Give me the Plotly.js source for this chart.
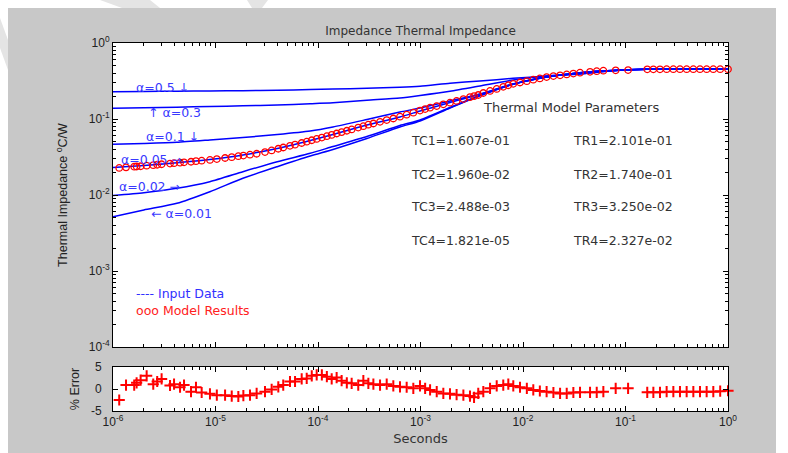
<!DOCTYPE html>
<html>
<head>
<meta charset="utf-8">
<script src="https://cdn.plot.ly/plotly-3.0.1.min.js"></script>
<style>html,body{margin:0;padding:0;background:#ffffff;}</style>
</head>
<body>
<div id="chart" style="width:788px;height:453px;"></div>
<script>
// Time grid of the measured curves (s)
const inputTime = [1e-6, 2e-6, 4.2e-6, 8.8e-6, 1.85e-5, 4e-5, 8.4e-5, 1.4e-4, 3e-4, 6.3e-4,
  9.9e-4, 1.94e-3, 3.8e-3, 8e-3, 1.71e-2, 3.6e-2, 7.5e-2, 1.62e-1, 1.0];

// Measured thermal impedance (°C/W) for each duty cycle alpha
const zAlpha050 = [0.2287, 0.2301, 0.2322, 0.2336, 0.2357, 0.2386, 0.2437, 0.2474, 0.2543, 0.2610,
  0.2693, 0.2949, 0.3162, 0.3431, 0.3680, 0.3909, 0.4319, 0.4506, 0.4548];
const zAlpha030 = [0.1383, 0.1404, 0.1430, 0.1461, 0.1492, 0.1528, 0.1585, 0.1633, 0.1762, 0.1889,
  0.2038, 0.2315, 0.2718, 0.3259, 0.3680, 0.3933, 0.4319, 0.4506, 0.4548];
const zAlpha010 = [0.0465, 0.0476, 0.0493, 0.0529, 0.0571, 0.0625, 0.0695, 0.0785, 0.0985, 0.1236,
  0.1396, 0.1725, 0.2133, 0.2887, 0.3569, 0.4066, 0.4346, 0.4506, 0.4548];
const zAlpha005 = [0.0230, 0.0244, 0.0265, 0.0293, 0.0336, 0.0409, 0.0521, 0.0625, 0.0834, 0.1062,
  0.1274, 0.1648, 0.2113, 0.2887, 0.3569, 0.4066, 0.4346, 0.4506, 0.4548];
const zAlpha002 = [0.00985, 0.01072, 0.01225, 0.01496, 0.02025, 0.02742, 0.03538, 0.04346, 0.05884, 0.08211,
  0.09701, 0.1417, 0.2038, 0.2861, 0.3558, 0.4066, 0.4346, 0.4506, 0.4548];
const zAlpha001 = [0.00518, 0.00635, 0.00777, 0.01105, 0.01658, 0.02357, 0.03260, 0.03970, 0.05537, 0.0785,
  0.0941, 0.1396, 0.2020, 0.2861, 0.3558, 0.4066, 0.4346, 0.4506, 0.4548];

// Times at which the fitted model was evaluated (s)
const modelTime = [1.15e-6, 1.34e-6, 1.61e-6, 1.70e-6, 1.86e-6, 2.13e-6, 2.47e-6, 2.70e-6, 2.98e-6, 3.60e-6,
  3.94e-6, 4.51e-6, 4.93e-6, 5.77e-6, 6.45e-6, 7.33e-6, 8.83e-6, 1.03e-5, 1.24e-5, 1.44e-5,
  1.67e-5, 1.87e-5, 2.17e-5, 2.52e-5, 3.04e-5, 3.53e-5, 4.10e-5, 4.58e-5, 5.33e-5, 5.97e-5,
  6.93e-5, 7.76e-5, 8.69e-5, 9.71e-5, 1.09e-4, 1.22e-4, 1.36e-4, 1.52e-4, 1.70e-4, 1.91e-4,
  2.13e-4, 2.47e-4, 2.77e-4, 3.10e-4, 3.47e-4, 4.03e-4, 4.68e-4, 5.43e-4, 6.31e-4, 7.33e-4,
  8.51e-4, 9.89e-4, 1.11e-3, 1.24e-3, 1.44e-3, 1.67e-3, 1.94e-3, 2.25e-3, 2.62e-3, 3.04e-3,
  3.33e-3, 3.66e-3, 4.10e-3, 4.77e-3, 5.54e-3, 6.42e-3, 7.19e-3, 8.04e-3, 9.35e-3, 1.09e-2,
  1.26e-2, 1.46e-2, 1.70e-2, 1.98e-2, 2.30e-2, 2.67e-2, 3.10e-2, 3.60e-2, 4.51e-2, 5.24e-2,
  6.08e-2, 8.02e-2, 1.06e-1, 1.63e-1, 1.87e-1, 2.17e-1, 2.52e-1, 2.93e-1, 3.40e-1, 3.95e-1,
  4.59e-1, 5.33e-1, 6.19e-1, 7.19e-1, 8.39e-1, 1.0];

// Model thermal impedance (°C/W)
const modelZ = [0.0227, 0.0231, 0.0236, 0.0237, 0.0239, 0.0243, 0.0247, 0.0250, 0.0254, 0.0259,
  0.0262, 0.0266, 0.0269, 0.0274, 0.0279, 0.0283, 0.0289, 0.0297, 0.0307, 0.0315,
  0.0324, 0.0330, 0.0339, 0.0349, 0.0367, 0.0386, 0.0406, 0.0422, 0.0444, 0.0460,
  0.0483, 0.0503, 0.0525, 0.0547, 0.0569, 0.0594, 0.0618, 0.0644, 0.0672, 0.0700,
  0.0730, 0.0771, 0.0804, 0.0841, 0.0873, 0.0918, 0.0968, 0.1016, 0.1072, 0.114,
  0.121, 0.129, 0.135, 0.141, 0.148, 0.156, 0.164, 0.173, 0.183, 0.194,
  0.200, 0.207, 0.220, 0.234, 0.249, 0.265, 0.278, 0.290, 0.302, 0.315,
  0.329, 0.342, 0.356, 0.367, 0.376, 0.386, 0.396, 0.407, 0.418, 0.426,
  0.432, 0.437, 0.440, 0.451, 0.451, 0.451, 0.452, 0.452, 0.452, 0.452,
  0.452, 0.452, 0.452, 0.452, 0.452, 0.452];

// Model error relative to the data (%)
const modelError = [-2.5, 0.9, 0.9, 1.4, 2.0, 3.0, 1.1, 1.7, 2.3, 0.8,
  1.1, 0.4, 0.9, -0.6, 0.4, -0.8, -1.1, -1.4, -1.4, -1.6,
  -1.7, -1.5, -1.4, -1.0, -0.6, -0.1, 0.5, 0.9, 1.7, 1.7,
  2.3, 2.4, 3.0, 3.2, 3.2, 2.8, 2.3, 2.6, 1.9, 1.4,
  1.3, 0.9, 1.9, 1.3, 1.1, 0.9, 1.1, 0.7, 0.5, 0.4,
  0.15, 0.7, 0.15, -0.2, -0.6, -1.0, -1.1, -1.3, -1.4, -1.6,
  -1.9, -1.0, -0.6, 0.15, 0.7, 0.9, 1.1, 0.7, 0.4, 0.15,
  -0.2, -0.45, -0.6, -0.8, -1.0, -1.0, -0.8, -0.75, -0.75, -0.75,
  -0.6, 0.15, 0.15, -0.75, -0.75, -0.75, -0.6, -0.6, -0.6, -0.6,
  -0.6, -0.6, -0.6, -0.6, -0.5, -0.4];

// Axis ticks
const decadeX = [1e-6, 1e-5, 1e-4, 1e-3, 1e-2, 1e-1, 1];
const xTickText = ['10<sup>-6</sup>', '10<sup>-5</sup>', '10<sup>-4</sup>', '10<sup>-3</sup>',
  '10<sup>-2</sup>', '10<sup>-1</sup>', '10<sup>0</sup>'];
const decadeY = [1e-4, 1e-3, 1e-2, 1e-1, 1];
const yTickText = ['10<sup>-4</sup>', '10<sup>-3</sup>', '10<sup>-2</sup>', '10<sup>-1</sup>', '10<sup>0</sup>'];
const errTicks = [-5, 0, 5];
const errTickText = ['-5', '0', '5'];

// Curve labels and fitted parameters
const alphaLabels = ['α=0.5 ↓', '↑ α=0.3', 'α=0.1 ↓', 'α=0.05 →', 'α=0.02 →', '← α=0.01'];
const paramTC = ['TC1=1.607e-01', 'TC2=1.960e-02', 'TC3=2.488e-03', 'TC4=1.821e-05'];
const paramTR = ['TR1=2.101e-01', 'TR2=1.740e-01', 'TR3=3.250e-02', 'TR4=2.327e-02'];

// Minor tick positions 2..9 within each decade
function minorTicks(lo, hi) {
  const v = [];
  for (let d = lo; d < hi; d++) {
    for (let k = 2; k <= 9; k++) v.push(k * Math.pow(10, d));
  }
  return v;
}

const BLUE = '#0000ff';
const RED = '#ff0000';
const textFont = 'DejaVu Sans, Verdana, sans-serif';
const narrowFont = 'Liberation Sans Narrow, Arial Narrow, Liberation Sans, Arial, sans-serif';
const tickFont = {family: 'Liberation Sans, Arial, sans-serif', size: 12, color: '#222222'};

const curves = [zAlpha050, zAlpha030, zAlpha010, zAlpha005, zAlpha002, zAlpha001];
const traces = curves.map(z => ({
  x: inputTime, y: z, xaxis: 'x', yaxis: 'y', type: 'scatter', mode: 'lines',
  line: {color: BLUE, width: 1.5, shape: 'spline', smoothing: 0.6}, hoverinfo: 'skip'
}));
traces.push({
  x: modelTime, y: modelZ, xaxis: 'x', yaxis: 'y', type: 'scatter', mode: 'markers',
  marker: {symbol: 'circle-open', size: 6.5, color: RED, line: {color: RED, width: 1.3}},
  cliponaxis: false
});
traces.push({
  x: modelTime, y: modelError, xaxis: 'x2', yaxis: 'y2', type: 'scatter', mode: 'markers',
  marker: {symbol: 'cross-thin-open', size: 8, color: RED, line: {color: RED, width: 2}},
  cliponaxis: false
});

// Plot frame geometry in pixels
const W = 788, H = 453, L = 113, R = 60, T = 43, B = 42;
const PW = W - L - R, PH = H - T - B;
const px = x => (x - L) / PW;
const py = y => (H - B - y) / PH;

function axisCommon() {
  return {
    ticks: 'inside', ticklen: 5, tickcolor: '#000', tickwidth: 1,
    showline: true, linecolor: '#000', linewidth: 1, mirror: 'ticks',
    showgrid: false, zeroline: false, tickfont: tickFont
  };
}

// Page margin around the grey figure, with faint diagonal bands
function rectPx(x0, y0, x1, y1, color) {
  return {type: 'rect', xref: 'paper', yref: 'paper', layer: 'above',
    x0: px(x0), x1: px(x1), y0: py(y1), y1: py(y0),
    line: {width: 0}, fillcolor: color};
}
function polyPx(pts, color) {
  const d = pts.map((p, i) => (i ? 'L' : 'M') + px(p[0]) + ',' + py(p[1])).join(' ') + ' Z';
  return {type: 'path', xref: 'paper', yref: 'paper', layer: 'above', path: d,
    line: {width: 0}, fillcolor: color};
}
const shapes = [
  rectPx(0, 0, W, 8, '#ffffff'),
  rectPx(0, 0, 8, H, '#ffffff'),
  rectPx(776, 0, W, H, '#ffffff'),
  polyPx([[100, 0], [150, 0], [160, 8], [122, 8]], '#e4e4e4'),
  polyPx([[247, 0], [268, 0], [262, 8], [252, 8]], '#e4e4e4'),
  polyPx([[0, 18], [0, 48], [8, 70], [8, 40]], '#e4e4e4')
];

const layout = {
  width: W, height: H,
  margin: {l: L, r: R, t: T, b: B},
  paper_bgcolor: '#c8c8c8',
  plot_bgcolor: '#ffffff',
  showlegend: false,
  hovermode: false,
  shapes: shapes,
  title: {
    text: 'Impedance Thermal Impedance',
    font: {family: textFont, size: 12, color: '#333333'},
    x: 0.5, xref: 'paper', xanchor: 'center',
    y: 1 - 31 / H, yref: 'container', yanchor: 'middle'
  },
  xaxis: Object.assign(axisCommon(), {
    type: 'log', range: [-6, 0], anchor: 'y', domain: [0, 1],
    tickmode: 'array', tickvals: decadeX, showticklabels: false,
    minor: {tickmode: 'array', tickvals: minorTicks(-6, 0), ticks: 'inside', ticklen: 3, tickcolor: '#000', showgrid: false}
  }),
  yaxis: Object.assign(axisCommon(), {
    type: 'log', range: [-4, 0], anchor: 'x', domain: [py(347), 1],
    tickmode: 'array', tickvals: decadeY, ticktext: yTickText,
    minor: {tickmode: 'array', tickvals: minorTicks(-4, 0), ticks: 'inside', ticklen: 3, tickcolor: '#000', showgrid: false},
    title: {text: 'Thermal Impedance <sup>o</sup>C/W', standoff: 18,
      font: {family: narrowFont, size: 12.5, color: '#222222'}}
  }),
  xaxis2: Object.assign(axisCommon(), {
    type: 'log', range: [-6, 0], anchor: 'y2', domain: [0, 1],
    tickmode: 'array', tickvals: decadeX, ticktext: xTickText,
    minor: {tickmode: 'array', tickvals: minorTicks(-6, 0), ticks: 'inside', ticklen: 3, tickcolor: '#000', showgrid: false},
    title: {text: 'Seconds', standoff: 5, font: {family: textFont, size: 13, color: '#333333'}}
  }),
  yaxis2: Object.assign(axisCommon(), {
    range: [-5, 5], anchor: 'x2', domain: [0, py(367)],
    tickmode: 'array', tickvals: errTicks, ticktext: errTickText, ticklabelstandoff: 8,
    title: {text: '% Error', standoff: 8,
      font: {family: narrowFont, size: 12.5, color: '#222222'}}
  }),
  annotations: []
};

function addText(text, x, y, color, size) {
  layout.annotations.push({
    text: text, xref: 'paper', yref: 'paper', x: px(x), y: py(y),
    xanchor: 'left', yanchor: 'middle', showarrow: false, borderpad: 0,
    font: {family: textFont, size: size, color: color}
  });
}

const ALPHA_COLOR = '#3838ff';
const alphaPos = [[135, 87.5], [147, 112], [145, 136.7], [120, 159.3], [118, 186], [150, 213.3]];
alphaLabels.forEach((t, i) => addText(t, alphaPos[i][0], alphaPos[i][1], ALPHA_COLOR, 12.5));

addText('---- Input Data', 135, 293.3, '#3030ff', 12.5);
addText('ooo Model Results', 135, 310, '#ff2020', 12.5);
addText('Thermal Model Parameters', 482, 107.3, '#333333', 13);

const rowY = [140.7, 174, 206.7, 240];
paramTC.forEach((t, i) => addText(t, 410, rowY[i], '#333333', 12.5));
paramTR.forEach((t, i) => addText(t, 572, rowY[i], '#333333', 12.5));

Plotly.newPlot('chart', traces, layout, {staticPlot: true, displayModeBar: false});
</script>
</body>
</html>
